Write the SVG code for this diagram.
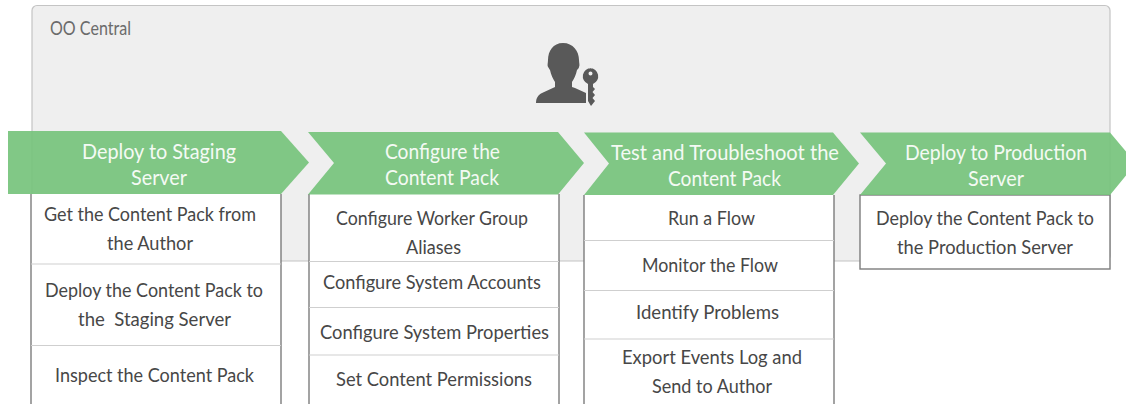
<svg xmlns="http://www.w3.org/2000/svg" width="1126" height="404" viewBox="0 0 1126 404">
<style>
text{font-family:"Lato","Open Sans","Liberation Sans",sans-serif;white-space:pre}
.h{font-size:22px;fill:#f4faf4}
.b{font-size:19.5px;fill:#474747}
.c{fill:#76c37c;fill-opacity:.92}
.box{fill:#fff}
.side{stroke:#7d7d7d;stroke-width:1.4;fill:none}
.div{stroke:#cfcfcf;stroke-width:1.2;fill:none}
</style>
<rect width="1126" height="404" fill="#fff"/>
<g id="oo-central">
<rect x="32" y="5.500" width="1078" height="255.500" rx="5" fill="#efefef" stroke="#c4c4c4" stroke-width="1.200"/>
<text x="50" y="35" font-size="18.500" fill="#6b6b6b" textLength="81" lengthAdjust="spacingAndGlyphs">OO Central</text>
<g id="user-key-icon" fill="#595959">
<path d="M563 43c-10 0-15 8-15 17 0 3-1 5 0 7 1 1 1 2 2 3 1 5 3 9 5 12v5l-13 6c-4 2-6 5-6 10h50V93l-11-5-3-1v-5c2-3 4-7 5-12 1-1 2-2 2-3 1-2 0-4 0-7 0-9-6-17-16-17z"/>
<path fill-rule="evenodd" d="M591 68a8.300 8.300 0 0 0-3 16v17l3 5 4-5-2.500-3 2.500-3-2.500-3 2.500-3-2-2v-3a8.300 8.300 0 0 0-3-16zm-.5 3.500a2 2 0 1 1 0 4 2 2 0 0 1 0-4z"/>
</g>
</g>
<g id="col-staging">
<rect class="box" x="31" y="194" width="250" height="212"/>
<path class="side" d="M31 194V404M281 194V404"/>
<path class="div" d="M31 264H281M31 345.500H281"/>
<text class="b" x="44" y="220.500" textLength="212" lengthAdjust="spacingAndGlyphs">Get the Content Pack from</text>
<text class="b" x="107" y="249.500" textLength="86" lengthAdjust="spacingAndGlyphs">the Author</text>
<text class="b" x="45" y="296.500" textLength="218" lengthAdjust="spacingAndGlyphs">Deploy the Content Pack to</text>
<text class="b" x="78" y="325.500" textLength="153" lengthAdjust="spacingAndGlyphs">the  Staging Server</text>
<text class="b" x="55" y="381.500" textLength="199" lengthAdjust="spacingAndGlyphs">Inspect the Content Pack</text>
</g>
<g id="col-configure">
<rect class="box" x="309" y="194" width="250" height="212"/>
<path class="side" d="M309 194V404M559 194V404"/>
<path class="div" d="M309 261.500H559M309 307.500H559M309 355H559"/>
<text class="b" x="336" y="224.500" textLength="192" lengthAdjust="spacingAndGlyphs">Configure Worker Group</text>
<text class="b" x="406" y="253.500" textLength="55" lengthAdjust="spacingAndGlyphs">Aliases</text>
<text class="b" x="323" y="288.500" textLength="218" lengthAdjust="spacingAndGlyphs">Configure System Accounts</text>
<text class="b" x="320" y="338.500" textLength="229" lengthAdjust="spacingAndGlyphs">Configure System Properties</text>
<text class="b" x="336" y="385.500" textLength="196" lengthAdjust="spacingAndGlyphs">Set Content Permissions</text>
</g>
<g id="col-test">
<rect class="box" x="584" y="195" width="250" height="211"/>
<path class="side" d="M584 195V404M834 195V404"/>
<path class="div" d="M584 240.500H834M584 290.500H834M584 339H834"/>
<text class="b" x="668" y="224.500" textLength="87" lengthAdjust="spacingAndGlyphs">Run a Flow</text>
<text class="b" x="642" y="271.500" textLength="136" lengthAdjust="spacingAndGlyphs">Monitor the Flow</text>
<text class="b" x="636" y="318.500" textLength="143" lengthAdjust="spacingAndGlyphs">Identify Problems</text>
<text class="b" x="622" y="363.500" textLength="180" lengthAdjust="spacingAndGlyphs">Export Events Log and</text>
<text class="b" x="652" y="392.500" textLength="120" lengthAdjust="spacingAndGlyphs">Send to Author</text>
</g>
<g id="col-production">
<rect class="box" x="860" y="195" width="250" height="74" stroke="#7d7d7d" stroke-width="1.400"/>
<text class="b" x="876" y="224.500" textLength="218" lengthAdjust="spacingAndGlyphs">Deploy the Content Pack to</text>
<text class="b" x="897" y="253.500" textLength="176" lengthAdjust="spacingAndGlyphs">the Production Server</text>
</g>
<g id="step-staging">
<path class="c" d="M8 131H281L309 162.500 281 194H8Z"/>
<text class="h" x="82" y="158.500" textLength="154" lengthAdjust="spacingAndGlyphs">Deploy to Staging</text>
<text class="h" x="131" y="184.500" textLength="56" lengthAdjust="spacingAndGlyphs">Server</text>
</g>
<g id="step-configure">
<path class="c" d="M308 132H558L584 163 558 194.500H308L334 163Z"/>
<text class="h" x="385" y="158.500" textLength="115" lengthAdjust="spacingAndGlyphs">Configure the</text>
<text class="h" x="385" y="184.500" textLength="114" lengthAdjust="spacingAndGlyphs">Content Pack</text>
</g>
<g id="step-test">
<path class="c" d="M584 132.500H833L859 163.500 833 195H584L609 163.500Z"/>
<text class="h" x="611" y="159.500" textLength="228" lengthAdjust="spacingAndGlyphs">Test and Troubleshoot the</text>
<text class="h" x="668" y="185.500" textLength="113" lengthAdjust="spacingAndGlyphs">Content Pack</text>
</g>
<g id="step-production">
<path class="c" d="M860 132.500H1110L1136 163.500 1110 195H860L886 163.500Z"/>
<text class="h" x="905" y="159.500" textLength="182" lengthAdjust="spacingAndGlyphs">Deploy to Production</text>
<text class="h" x="968" y="185.500" textLength="56" lengthAdjust="spacingAndGlyphs">Server</text>
</g>
<g id="connectors"/>
</svg>
